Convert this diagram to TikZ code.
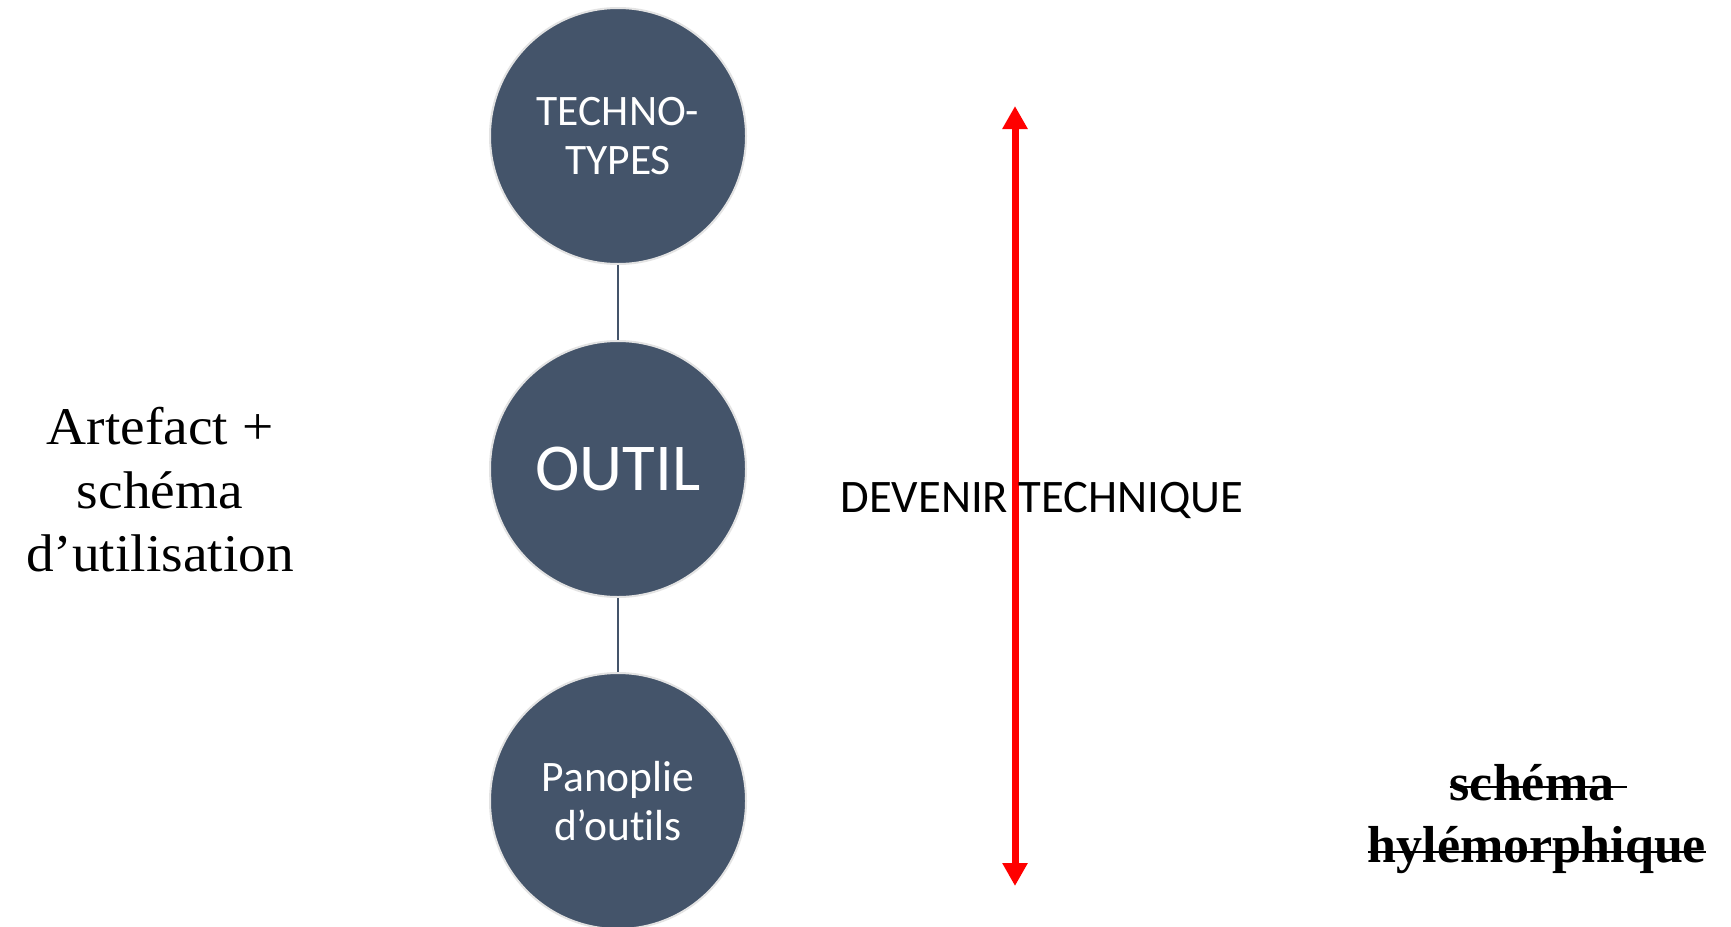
\documentclass[tikz,border=0pt]{standalone}
\usepackage{fontspec}
\setmainfont{Liberation Serif}
\newfontfamily\calib[Ligatures={NoCommon,NoContextual}]{Carlito}
\usetikzlibrary{arrows.meta,calc}
\definecolor{slate}{HTML}{44546A}
\definecolor{ringgray}{HTML}{E3E3E3}
\definecolor{arrowred}{HTML}{FF0000}
\newcommand{\widen}[1]{\scalebox{1.045}[1]{#1}}
\begin{document}
\begin{tikzpicture}[x=1pt,y=-1pt,
  bubble/.style={circle,fill=slate,draw=ringgray,line width=2pt,minimum size=256pt,inner sep=0pt,
    text=white,align=center,font=\calib\fontsize{43.5}{49}\selectfont},
  link/.style={draw=slate,line width=2pt},
  sidetext/.style={inner sep=0pt,anchor=base,font=\fontsize{53}{63.5}\selectfont},
  struck/.style={inner sep=0pt,anchor=base,font=\bfseries\fontsize{52}{62}\selectfont},
  strike/.style={draw=black,line width=2.5pt},
  devenir/.style={line width=7pt,draw=arrowred,{Triangle[width=24pt,length=23pt]}-{Triangle[width=24pt,length=23pt]}},
  label/.style={inner sep=0pt,font=\calib\fontsize{46.6}{56}\selectfont}
]
\useasboundingbox (0,0) rectangle (1731,926);
\fill[white] (0,0) rectangle (1731,926);

% circles
\node[bubble] (techno) at (618,136) {TECHNO-\\TYPES};
\node[bubble,font=\calib\fontsize{67}{75}\selectfont] (outil) at (618,469) {OUTIL};
\node[bubble] (panoplie) at (618,801) {Panoplie\\d’outils};

\draw[link] (techno.south) -- (outil.north);
\draw[link] (outil.south) -- (panoplie.north);

% red double arrow
\coordinate (atop) at (1015,106);
\coordinate (abot) at (1015,886);
\draw[devenir] (abot) -- (atop);

\node[label] (dt) at (1042,500) {DEVENIR TECHNIQUE};

% left text
\node[sidetext] (l1) at (160,444) {\widen{Artefact +}};
\node[sidetext] (l2) at (160,508) {\widen{schéma}};
\node[sidetext] (l3) at (160,571) {\widen{d’utilisation}};

% right struck text
\node[struck] (s1) at (1532,800) {schéma};
\node[struck] (s2) at (1537,862) {hylémorphique};
\draw[strike] ($(s1.base west)+(0,-13)$) -- ($(s1.base east)+(12,-13)$);
\draw[strike] ($(s2.base west)+(0,-10)$) -- ($(s2.base east)+(0,-10)$);
\end{tikzpicture}
\end{document}
